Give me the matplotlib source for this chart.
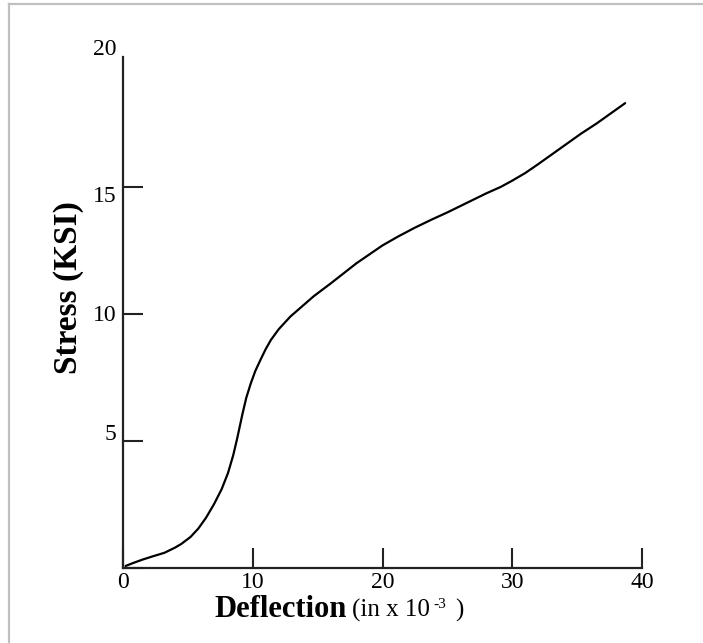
import matplotlib.pyplot as plt
from matplotlib.lines import Line2D
import matplotlib.transforms as mtransforms

plt.rcParams['font.family'] = ['Liberation Serif', 'DejaVu Serif']

# values
deflection = [0.2, 0.8, 1.5, 2.3, 3.2, 4.0, 4.5, 5.2, 5.8, 6.4, 7.0, 7.6,
              8.1, 8.5, 8.8, 9.2, 9.5, 9.85, 10.2, 10.6, 11.0, 11.4, 12.0,
              12.9, 13.8, 14.7, 16.0, 17.0, 18.0, 19.0, 20.0, 21.2, 22.5,
              23.8, 25.0, 26.0, 27.0, 28.0, 29.1, 30.0, 31.0, 32.0, 33.1,
              34.2, 35.3, 36.5, 37.6, 38.7]
stress = [0.08, 0.2, 0.33, 0.46, 0.6, 0.8, 0.95, 1.22, 1.55, 1.98, 2.5,
          3.1, 3.75, 4.45, 5.1, 6.05, 6.7, 7.27, 7.76, 8.2, 8.62, 8.98,
          9.4, 9.9, 10.3, 10.7, 11.2, 11.6, 12.0, 12.35, 12.7, 13.05, 13.4,
          13.72, 14.0, 14.25, 14.5, 14.75, 15.0, 15.25, 15.55, 15.9, 16.3,
          16.7, 17.1, 17.5, 17.9, 18.3]

x_ticks = [0, 10, 20, 30, 40]
y_ticks = [0, 5, 10, 15, 20]
y_tick_labels = ['', '5', '10', '15', '20']
y_label_shift = [0, 9, 1, -7, 13]  # px, the labels sit a bit off their ticks

W, H = 703, 643
fig = plt.figure(figsize=(W / 100, H / 100), dpi=100)
ax = fig.add_axes([123 / W, 1 - 568 / H, (642 - 123) / W, (568 - 60) / H])

ax.plot(deflection, stress, color='black', lw=1.6, solid_capstyle='round',
        solid_joinstyle='round')

ax.set_xlim(0, 40)
ax.set_ylim(0, 20)
ax.set_xticks(x_ticks)
ax.set_yticks(y_ticks)
ax.set_yticklabels(y_tick_labels)

for side in ['top', 'right']:
    ax.spines[side].set_visible(False)
for side in ['left', 'bottom']:
    ax.spines[side].set_linewidth(1.6)
    ax.spines[side].set_color('#222222')
ax.spines['left'].set_bounds(0, 20.1)

ax.tick_params(axis='both', direction='in', length=14.5, width=1.5,
               color='#222222', labelsize=17)
ax.tick_params(axis='x', pad=3)
ax.tick_params(axis='y', pad=5)
ax.yaxis.get_major_ticks()[-1].tick1line.set_visible(False)

for lab, dy in zip(ax.get_yticklabels(), y_label_shift):
    off = mtransforms.ScaledTranslation(0, dy / 100, fig.dpi_scale_trans)
    lab.set_transform(lab.get_transform() + off)

# axis titles
fig.text(69 / W, 1 - 288 / H, 'Stress (KSI)', rotation=90, ha='center',
         va='center', fontsize=24, fontweight='bold')
base = 1 - 617 / H
fig.text(347 / W, base, 'Deflection', ha='right', va='baseline',
         fontsize=22, fontweight='bold')
fig.text(352 / W, base, '(in x 10', ha='left', va='baseline', fontsize=18)
fig.text(433 / W, 1 - 608 / H, '-3', ha='left', va='baseline', fontsize=11)
fig.text(455 / W, base, ')', ha='left', va='baseline', fontsize=18)

# light grey frame on the left and top
fig.add_artist(Line2D([8.5 / W, 8.5 / W], [0, 1 - 3.5 / H],
                      transform=fig.transFigure, color='#c0c0c0', lw=1.6))
fig.add_artist(Line2D([8.5 / W, 1], [1 - 3.5 / H, 1 - 3.5 / H],
                      transform=fig.transFigure, color='#c0c0c0', lw=1.6))

fig.savefig('out.png', dpi=100)
